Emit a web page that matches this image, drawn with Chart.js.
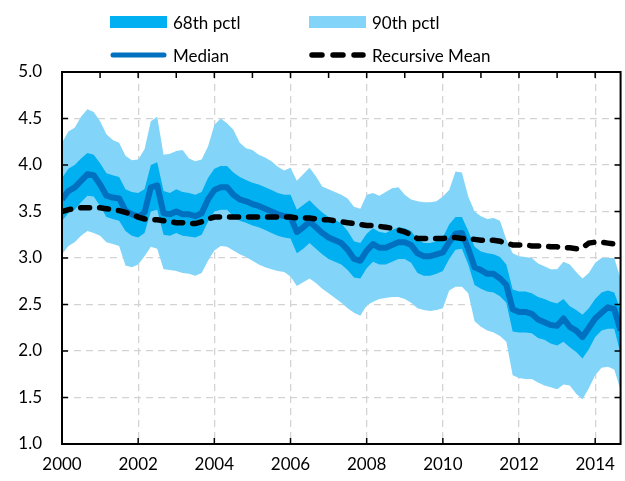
<!DOCTYPE html>
<html>
<head>
<meta charset="utf-8">
<script src="https://cdn.jsdelivr.net/npm/chart.js@4.4.0/dist/chart.umd.min.js"></script>
<style>
body { margin: 0; background: #fff; font-family: Lato, "Open Sans", sans-serif; }
#wrap { position: relative; width: 625px; height: 481px; }
#legend { position: absolute; left: 0; top: 0; width: 625px; height: 70px; font-size: 17px; color: #000; }
.item { position: absolute; display: flex; align-items: center; height: 22px; white-space: nowrap; }
.item svg { margin-right: 6px; }
</style>
</head>
<body>
<div id="wrap">
  <canvas id="myChart"></canvas>
  <div id="legend">
    <div class="item" style="left:110px;top:11px"><svg width="57" height="12"><rect x="0" y="0" width="57" height="12" fill="#00B0F0"/></svg><span>68th pctl</span></div>
    <div class="item" style="left:309px;top:11px"><svg width="57" height="12"><rect x="0" y="0" width="57" height="12" fill="#82D5F8"/></svg><span>90th pctl</span></div>
    <div class="item" style="left:110px;top:44px"><svg width="57" height="12"><line x1="3" y1="6" x2="54" y2="6" stroke="#0070C0" stroke-width="5" stroke-linecap="round"/></svg><span>Median</span></div>
    <div class="item" style="left:309px;top:44px"><svg width="57" height="12"><line x1="3" y1="6" x2="54" y2="6" stroke="#000" stroke-width="5.5" stroke-linecap="round" stroke-dasharray="10 11"/></svg><span>Recursive Mean</span></div>
  </div>
</div>
<script>
// bi-monthly observations
const dates = [
  '2000-01','2000-03','2000-05','2000-07','2000-09','2000-11',
  '2001-01','2001-03','2001-05','2001-07','2001-09','2001-11',
  '2002-01','2002-03','2002-05','2002-07','2002-09','2002-11',
  '2003-01','2003-03','2003-05','2003-07','2003-09','2003-11',
  '2004-01','2004-03','2004-05','2004-07','2004-09','2004-11',
  '2005-01','2005-03','2005-05','2005-07','2005-09','2005-11',
  '2006-01','2006-03','2006-05','2006-07','2006-09','2006-11',
  '2007-01','2007-03','2007-05','2007-07','2007-09','2007-11',
  '2008-01','2008-03','2008-05','2008-07','2008-09','2008-11',
  '2009-01','2009-03','2009-05','2009-07','2009-09','2009-11',
  '2010-01','2010-03','2010-05','2010-07','2010-09','2010-11',
  '2011-01','2011-03','2011-05','2011-07','2011-09','2011-11',
  '2012-01','2012-03','2012-05','2012-07','2012-09','2012-11',
  '2013-01','2013-03','2013-05','2013-07','2013-09','2013-11',
  '2014-01','2014-03','2014-05','2014-07','2014-09'
];

const median = [
  3.63, 3.72, 3.76, 3.83, 3.90, 3.89,
  3.79, 3.67, 3.65, 3.64, 3.51, 3.47,
  3.44, 3.49, 3.76, 3.78, 3.48, 3.47,
  3.50, 3.47, 3.47, 3.45, 3.48, 3.63,
  3.73, 3.76, 3.76, 3.68, 3.63, 3.61,
  3.58, 3.56, 3.53, 3.50, 3.47, 3.45,
  3.44, 3.28, 3.33, 3.39, 3.33, 3.27,
  3.22, 3.19, 3.16, 3.09, 2.99, 2.97,
  3.08, 3.15, 3.11, 3.11, 3.14, 3.17,
  3.17, 3.14, 3.05, 3.02, 3.02, 3.04,
  3.06, 3.17, 3.26, 3.27, 3.10, 2.90,
  2.87, 2.83, 2.83, 2.78, 2.71, 2.45,
  2.42, 2.42, 2.40, 2.34, 2.31, 2.28,
  2.27, 2.35, 2.26, 2.22, 2.15, 2.25,
  2.35, 2.41, 2.47, 2.45, 2.22
];

const pct84 = [
  3.86, 3.96, 4.00, 4.07, 4.13, 4.11,
  4.02, 3.91, 3.89, 3.87, 3.74, 3.71,
  3.70, 3.74, 4.00, 4.03, 3.72, 3.70,
  3.74, 3.71, 3.70, 3.68, 3.71, 3.86,
  3.96, 3.99, 3.99, 3.92, 3.87, 3.84,
  3.81, 3.79, 3.76, 3.73, 3.70, 3.68,
  3.68, 3.52, 3.57, 3.62, 3.55, 3.49,
  3.44, 3.41, 3.37, 3.29, 3.18, 3.16,
  3.26, 3.32, 3.28, 3.27, 3.30, 3.33,
  3.32, 3.29, 3.20, 3.16, 3.16, 3.18,
  3.22, 3.36, 3.44, 3.44, 3.29, 3.12,
  3.07, 3.05, 3.04, 3.01, 2.93, 2.66,
  2.64, 2.64, 2.62, 2.58, 2.56, 2.53,
  2.51, 2.56, 2.48, 2.44, 2.39, 2.46,
  2.56, 2.63, 2.65, 2.63, 2.44
];

const pct16 = [
  3.40, 3.48, 3.52, 3.60, 3.67, 3.66,
  3.56, 3.44, 3.42, 3.40, 3.29, 3.24,
  3.22, 3.27, 3.50, 3.52, 3.25, 3.24,
  3.27, 3.24, 3.23, 3.22, 3.25, 3.39,
  3.50, 3.52, 3.52, 3.45, 3.40, 3.38,
  3.35, 3.33, 3.30, 3.27, 3.24, 3.22,
  3.21, 3.05, 3.10, 3.16, 3.10, 3.04,
  2.99, 2.96, 2.93, 2.87, 2.79, 2.78,
  2.89, 2.96, 2.93, 2.93, 2.96, 2.99,
  2.99, 2.95, 2.84, 2.81, 2.81, 2.83,
  2.86, 2.99, 3.09, 3.10, 2.93, 2.71,
  2.67, 2.64, 2.63, 2.59, 2.52, 2.21,
  2.20, 2.20, 2.19, 2.14, 2.12, 2.08,
  2.06, 2.10, 2.04, 1.99, 1.92, 2.02,
  2.15, 2.22, 2.24, 2.24, 1.97
];

const pct95 = [
  4.24, 4.36, 4.40, 4.52, 4.60, 4.57,
  4.47, 4.33, 4.27, 4.24, 4.10, 4.05,
  4.06, 4.17, 4.47, 4.52, 4.11, 4.12,
  4.15, 4.16, 4.07, 4.04, 4.06, 4.20,
  4.43, 4.50, 4.45, 4.38, 4.24, 4.18,
  4.16, 4.11, 4.08, 4.04, 3.98, 3.94,
  3.97, 3.83, 3.90, 3.97, 3.88, 3.77,
  3.74, 3.71, 3.68, 3.64, 3.55, 3.53,
  3.68, 3.70, 3.67, 3.71, 3.75, 3.76,
  3.68, 3.63, 3.61, 3.60, 3.60, 3.61,
  3.66, 3.73, 3.93, 3.92, 3.66, 3.50,
  3.45, 3.42, 3.43, 3.40, 3.20, 3.05,
  3.02, 3.01, 3.00, 2.94, 2.91, 2.88,
  2.88, 2.96, 2.93, 2.85, 2.78, 2.84,
  2.95, 3.00, 3.00, 3.00, 2.78
];

const pct5 = [
  3.04, 3.13, 3.17, 3.24, 3.29, 3.27,
  3.24, 3.17, 3.15, 3.13, 2.92, 2.90,
  2.93, 3.02, 3.12, 3.10, 2.88, 2.87,
  2.86, 2.84, 2.83, 2.81, 2.84, 2.97,
  3.08, 3.13, 3.12, 3.08, 3.04, 3.01,
  2.97, 2.93, 2.90, 2.88, 2.86, 2.85,
  2.80, 2.70, 2.74, 2.78, 2.73, 2.67,
  2.62, 2.57, 2.52, 2.46, 2.41, 2.38,
  2.49, 2.53, 2.56, 2.57, 2.58, 2.58,
  2.56, 2.52, 2.46, 2.44, 2.43, 2.44,
  2.46, 2.65, 2.69, 2.69, 2.62, 2.32,
  2.26, 2.22, 2.20, 2.16, 2.10, 1.74,
  1.71, 1.70, 1.70, 1.66, 1.63, 1.61,
  1.59, 1.64, 1.63, 1.54, 1.48, 1.60,
  1.74, 1.82, 1.83, 1.80, 1.58
];

const recMean = [
  3.50, 3.52, 3.53, 3.54, 3.54, 3.54,
  3.54, 3.53, 3.52, 3.51, 3.49, 3.47,
  3.44, 3.42, 3.41, 3.41, 3.40, 3.39,
  3.38, 3.38, 3.37, 3.37, 3.39, 3.42,
  3.44, 3.44, 3.44, 3.44, 3.44, 3.44,
  3.44, 3.44, 3.44, 3.44, 3.44, 3.44,
  3.44, 3.43, 3.43, 3.43, 3.42, 3.41,
  3.41, 3.40, 3.39, 3.38, 3.37, 3.36,
  3.35, 3.35, 3.34, 3.33, 3.32, 3.30,
  3.28, 3.25, 3.21, 3.21, 3.21, 3.21,
  3.21, 3.22, 3.22, 3.21, 3.21, 3.20,
  3.19, 3.19, 3.19, 3.18, 3.16, 3.14,
  3.14, 3.14, 3.13, 3.13, 3.13, 3.12,
  3.12, 3.11, 3.11, 3.10, 3.11, 3.16,
  3.17, 3.17, 3.16, 3.15, 3.14
];

const xTicks = [2000, 2002, 2004, 2006, 2008, 2010, 2012, 2014];
const xMinorTicks = [2001, 2002, 2003, 2004, 2005, 2006, 2007, 2008, 2009, 2010, 2011, 2012, 2013, 2014];
const yTicks = [1.0, 1.5, 2.0, 2.5, 3.0, 3.5, 4.0, 4.5, 5.0];

function toYear(s) {
    const [y, m] = s.split('-').map(Number);
    return y + (m - 1) / 12;
}

function series(vals) {
    return dates.map((d, i) => ({ x: toYear(d), y: vals[i] }));
}

// black box round the plot plus inward tick marks
const framePlugin = {
    id: 'frame',
    afterDraw(chart) {
        const { ctx, chartArea: a, scales } = chart;
        const x = scales.x, y = scales.y;
        ctx.save();
        ctx.strokeStyle = '#000';
        ctx.lineWidth = 1.5;
        ctx.beginPath();
        yTicks.forEach(v => {
            const py = y.getPixelForValue(v);
            ctx.moveTo(a.left, py); ctx.lineTo(a.left + 6, py);
            ctx.moveTo(a.right, py); ctx.lineTo(a.right - 6, py);
        });
        xMinorTicks.forEach(v => {
            const px = x.getPixelForValue(v);
            ctx.moveTo(px, a.top); ctx.lineTo(px, a.top + 6);
        });
        xTicks.forEach(v => {
            const px = x.getPixelForValue(v);
            ctx.moveTo(px, a.bottom); ctx.lineTo(px, a.bottom - 6);
        });
        ctx.stroke();
        ctx.lineWidth = 2;
        ctx.strokeRect(a.left, a.top, a.right - a.left, a.bottom - a.top);
        ctx.restore();
    }
};

const ctx = document.getElementById('myChart').getContext('2d');
Chart.defaults.font.family = 'Lato, "Open Sans", sans-serif';
Chart.defaults.font.size = 17;
Chart.defaults.color = '#000';

const myChart = new Chart(ctx, {
    type: 'line',
    data: {
        datasets: [
            {
                label: 'Recursive Mean',
                data: series(recMean),
                borderColor: '#000',
                borderWidth: 5.5,
                borderDash: [9, 10],
                borderCapStyle: 'round',
                fill: false
            },
            {
                label: 'Median',
                data: series(median),
                borderColor: '#0070C0',
                borderWidth: 6,
                borderJoinStyle: 'round',
                fill: false
            },
            {
                label: '68th pctl',
                data: series(pct84),
                borderWidth: 0,
                borderColor: 'rgba(0,0,0,0)',
                backgroundColor: '#00B0F0',
                fill: '+1'
            },
            {
                label: '68th lower',
                data: series(pct16),
                borderWidth: 0,
                borderColor: 'rgba(0,0,0,0)',
                fill: false
            },
            {
                label: '90th pctl',
                data: series(pct95),
                borderWidth: 0,
                borderColor: 'rgba(0,0,0,0)',
                backgroundColor: '#82D5F8',
                fill: '+1'
            },
            {
                label: '90th lower',
                data: series(pct5),
                borderWidth: 0,
                borderColor: 'rgba(0,0,0,0)',
                fill: false
            }
        ]
    },
    options: {
        responsive: true,
        maintainAspectRatio: false,
        animation: false,
        elements: { point: { radius: 0 }, line: { tension: 0 } },
        layout: { padding: { top: 72, right: 2, left: 0, bottom: 0 } },
        plugins: {
            legend: { display: false },
            tooltip: { enabled: false }
        },
        scales: {
            x: {
                type: 'linear',
                min: 2000,
                max: toYear(dates[dates.length - 1]),
                afterBuildTicks: s => { s.ticks = xTicks.map(v => ({ value: v })); },
                afterFit: s => { s.height = 37; },
                ticks: {
                    padding: 10,
                    maxRotation: 0,
                    callback: v => String(v)
                },
                grid: { color: '#d3d3d3', lineWidth: 1.3, drawTicks: false },
                border: { display: false, dash: [7, 5] }
            },
            y: {
                min: 1,
                max: 5,
                afterBuildTicks: s => { s.ticks = yTicks.map(v => ({ value: v })); },
                afterFit: s => { s.width = 62; },
                ticks: {
                    padding: 20,
                    callback: v => v.toFixed(1)
                },
                grid: { color: '#d3d3d3', lineWidth: 1.3, drawTicks: false },
                border: { display: false, dash: [7, 5] }
            }
        }
    },
    plugins: [framePlugin]
});
</script>
</body>
</html>
